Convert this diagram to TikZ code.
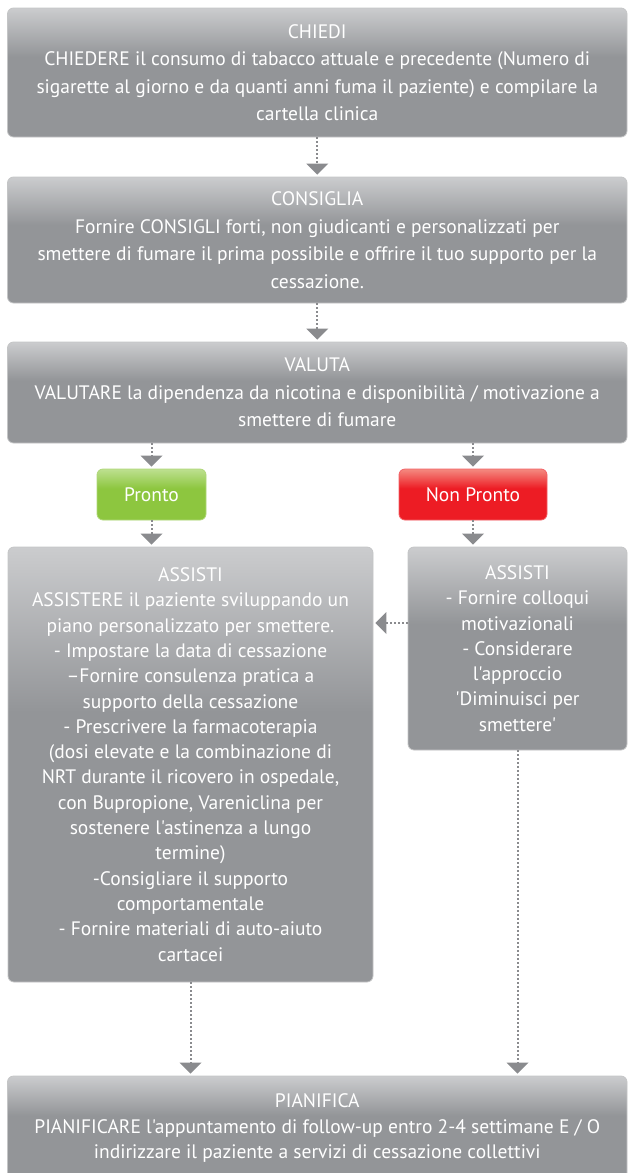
\documentclass[tikz,border=0pt]{standalone}
\usepackage{fontspec}
\setmainfont{PT Sans}[Ligatures=TeXOff]
\usetikzlibrary{arrows.meta}
\definecolor{boxgrey}{HTML}{939598}
\definecolor{boxlight}{HTML}{CBCCCE}
\definecolor{arrgrey}{HTML}{8A8B8E}
\definecolor{pgreen}{HTML}{8DC63F}
\definecolor{pgreenl}{HTML}{BDE090}
\definecolor{pred}{HTML}{ED1C24}
\definecolor{predl}{HTML}{F48A80}
\pgfdeclareverticalshading{greyshade}{100bp}{color(0bp)=(boxgrey); color(25bp)=(boxgrey); color(56bp)=(boxgrey); color(75bp)=(boxlight); color(100bp)=(boxlight)}
\pgfdeclareverticalshading{greenshade}{100bp}{color(0bp)=(pgreen); color(25bp)=(pgreen); color(56bp)=(pgreen); color(75bp)=(pgreenl); color(100bp)=(pgreenl)}
\pgfdeclareverticalshading{redshade}{100bp}{color(0bp)=(pred); color(25bp)=(pred); color(56bp)=(pred); color(75bp)=(predl); color(100bp)=(predl)}
\begin{document}
\begin{tikzpicture}[x=1pt,y=-1pt,
  box/.style={rounded corners=6pt, shading=greyshade, draw=boxgrey!55!white, line width=0.8pt,
    text=white, align=center, inner sep=0pt},
  f27/.style={font=\fontsize{19.5}{27.5}\selectfont},
  f25/.style={font=\fontsize{19.5}{25.3}\selectfont},
  arr/.style={draw=arrgrey, line width=2pt, dash pattern=on 1.8pt off 2.2pt,
    -{Triangle[width=22pt,length=11pt,line width=0pt,fill=arrgrey]}, shorten >=2pt}
]
\useasboundingbox (0,0) rectangle (628,1173);

\node[box, f27, minimum width=619.5pt, minimum height=129pt] (chiedi) at (317.25,72.5)
 {CHIEDI\\CHIEDERE il consumo di tabacco attuale e precedente (Numero di\\sigarette al giorno e da quanti anni fuma il paziente) e compilare la\\cartella clinica};

\node[box, f27, minimum width=619.5pt, minimum height=126pt] (consiglia) at (317.25,240)
 {CONSIGLIA\\Fornire CONSIGLI forti, non giudicanti e personalizzati per\\smettere di fumare il prima possibile e offrire il tuo supporto per la\\cessazione.};

\node[box, f27, minimum width=619.5pt, minimum height=101pt] (valuta) at (317.25,392.5)
 {VALUTA\\VALUTARE la dipendenza da nicotina e disponibilità / motivazione a\\smettere di fumare};

\node[box, f27, shading=greenshade, draw=pgreen!70!white, minimum width=109pt, minimum height=51pt] (pronto) at (151.5,494.5) {Pronto};
\node[box, f27, shading=redshade, draw=pred!70!white, minimum width=148pt, minimum height=51pt] (nonpronto) at (473,494.5) {Non Pronto};

\node[box, f25, minimum width=365pt, minimum height=435pt] (assistiL) at (190.5,764.5)
 {ASSISTI\\ASSISTERE il paziente sviluppando un\\piano personalizzato per smettere.\\- Impostare la data di cessazione\\–Fornire consulenza pratica a\\supporto della cessazione\\- Prescrivere la farmacoterapia\\(dosi elevate e la combinazione di\\NRT durante il ricovero in ospedale,\\con Bupropione, Vareniclina per\\sostenere l'astinenza a lungo\\termine)\\-Consigliare il supporto\\comportamentale\\- Fornire materiali di auto-aiuto\\cartacei};

\node[box, f25, minimum width=219pt, minimum height=203pt] (assistiR) at (517.5,648.5)
 {ASSISTI\\- Fornire colloqui\\motivazionali\\- Considerare\\l'approccio\\'Diminuisci per\\smettere'};

\node[box, f25, minimum width=619.5pt, minimum height=104pt] (pianifica) at (317.25,1128)
 {PIANIFICA\\PIANIFICARE l'appuntamento di follow-up entro 2-4 settimane E / O\\indirizzare il paziente a servizi di cessazione collettivi};

\draw[arr] (chiedi.south) -- (consiglia.north);
\draw[arr] (consiglia.south) -- (valuta.north);
\draw[arr] (pronto.north |- valuta.south) -- (pronto.north);
\draw[arr] (nonpronto.north |- valuta.south) -- (nonpronto.north);
\draw[arr] (pronto.south) -- (pronto.south |- assistiL.north);
\draw[arr] (nonpronto.south) -- (nonpronto.south |- assistiR.north);
\draw[arr] ([yshift=25.5pt]assistiR.west) -- ([yshift=25.5pt]assistiR.west -| assistiL.east);
\draw[arr] (assistiL.south) -- (assistiL.south |- pianifica.north);
\draw[arr] (assistiR.south) -- (assistiR.south |- pianifica.north);
\end{tikzpicture}
\end{document}
